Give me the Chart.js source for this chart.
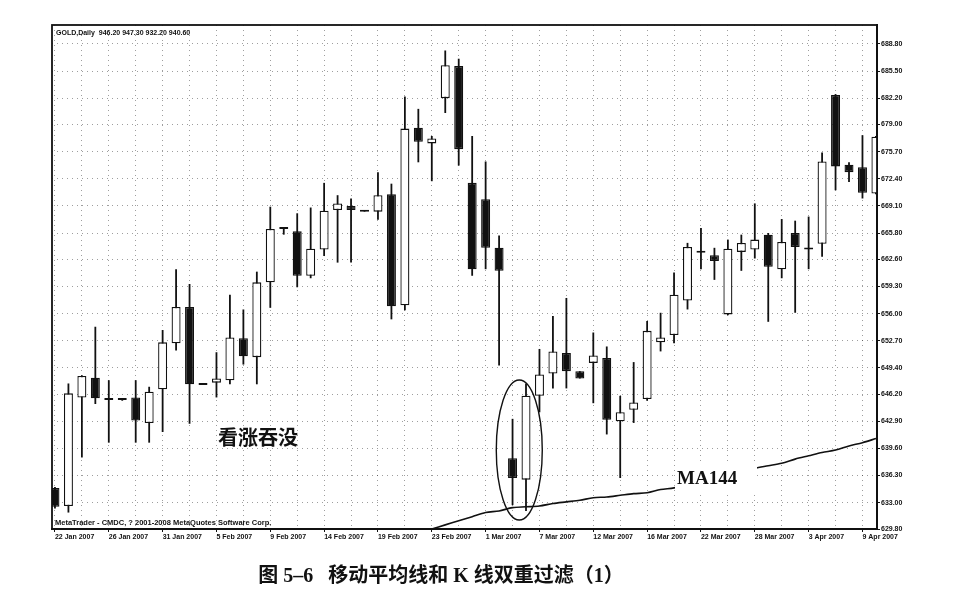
<!DOCTYPE html>
<html>
<head>
<meta charset="utf-8">
<script src="https://cdn.jsdelivr.net/npm/chart.js@4.4.1/dist/chart.umd.min.js"></script>
<style>
  html, body { margin: 0; padding: 0; background: #fff; }
  #wrap { width: 970px; height: 599px; }
</style>
</head>
<body>
<div id="wrap"><canvas id="c" width="970" height="599"></canvas></div>
<script>
// GOLD daily, 22 Jan - 9 Apr 2007 (one entry per bar)
const barOpen  = [634.8,632.6,645.8,648.2,645.6,645.6,645.8,642.7,646.8,652.4,
                  656.8,647.4,647.6,647.9,653.0,650.7,659.8,666.4,666.0,660.6,
                  663.8,668.6,669.1,668.5,668.4,670.5,657.0,678.6,676.7,682.2,
                  686.1,671.9,669.9,664.0,638.4,635.8,646.0,648.7,651.2,649.0,
                  650.0,650.6,642.9,644.3,645.6,652.5,653.4,657.6,663.5,663.1,
                  655.9,663.5,663.8,665.6,661.4,665.8,663.8,664.5,682.6,674.1,
                  673.8,670.6];
const barHigh  = [634.9,647.5,648.5,654.4,647.9,645.7,647.9,647.1,654.0,661.4,
                  659.6,647.5,651.3,658.3,656.5,661.1,669.0,666.5,668.2,668.9,
                  671.9,670.4,670.0,668.6,673.2,671.8,682.4,680.9,677.6,688.0,
                  687.0,677.6,674.5,665.5,643.2,647.5,651.7,655.7,657.9,649.0,
                  653.7,652.0,646.0,650.1,655.1,656.1,661.0,664.6,666.4,664.0,
                  665.0,665.6,669.4,665.8,667.5,667.3,667.8,675.6,682.7,674.4,
                  677.7,677.6];
const barLow   = [632.3,631.8,638.5,645.0,640.3,645.4,640.3,640.3,641.6,651.5,
                  642.6,647.3,645.8,647.4,649.8,647.4,656.7,665.6,659.2,660.3,
                  663.0,662.2,662.2,668.4,667.4,655.3,656.4,674.4,672.1,680.4,
                  674.0,660.6,661.4,649.7,632.7,632.0,644.0,646.9,646.9,648.1,
                  645.1,641.3,636.0,642.7,645.4,651.4,652.4,656.5,661.4,660.1,
                  655.8,661.2,662.7,655.0,660.3,656.1,661.4,662.9,671.0,672.0,
                  670.0,670.5];
const barClose = [632.5,646.3,648.4,645.7,645.5,645.5,643.0,646.5,652.5,656.8,
                  647.4,647.3,648.1,653.1,650.8,659.8,666.3,666.3,660.6,663.9,
                  668.5,669.4,668.6,668.4,670.4,656.9,678.5,676.9,677.3,686.2,
                  676.0,661.4,664.0,661.2,636.0,646.0,648.6,651.4,649.0,648.1,
                  650.9,643.1,644.0,645.2,653.9,653.1,658.3,664.1,663.4,662.4,
                  663.9,664.6,665.0,661.7,664.7,664.1,663.9,674.5,673.9,673.2,
                  670.7,677.5];
// 144-day moving average (below the visible range before bar 28)
const ma144 = [null,null,null,null,null,null,null,null,null,null,
               null,null,null,null,null,null,null,null,null,null,
               null,null,null,null,null,null,null,null,629.8,630.3,
               630.8,631.3,631.8,632.0,632.4,632.5,632.6,632.9,633.1,633.3,
               633.6,633.7,633.9,634.1,634.2,634.6,634.8,635.2,635.5,635.9,
               636.4,636.8,637.2,637.5,637.8,638.3,638.7,639.1,639.4,639.9,
               640.3,640.8];
// x labels, one every 4 bars
const dateLabels = ['22 Jan 2007','26 Jan 2007','31 Jan 2007','5 Feb 2007','9 Feb 2007',
                    '14 Feb 2007','19 Feb 2007','23 Feb 2007','1 Mar 2007','7 Mar 2007',
                    '12 Mar 2007','16 Mar 2007','22 Mar 2007','28 Mar 2007','3 Apr 2007','9 Apr 2007'];
const priceTicks = [629.8,633.0,636.3,639.6,642.9,646.2,649.4,652.7,656.0,659.3,
                    662.6,665.8,669.1,672.4,675.7,679.0,682.2,685.5,688.8];

const ink = '#111';
const gridInk = 'rgba(0,0,0,0.38)';
const tickFont = { family: 'Liberation Sans', size: 7, weight: 'bold' };

const bodies = barOpen.map((o, i) => ({ x: i, y: [o, barClose[i]] }));
const wicks = barLow.map((l, i) => ({ x: i, y: [l, barHigh[i]] }));
const maLine = ma144.map((v, i) => ({ x: i, y: v }));
const bodyColors = barOpen.map((o, i) => barClose[i] >= o ? '#fff' : ink);

const decor = {
  id: 'decor',
  afterDatasetsDraw(chart) {
    const { ctx, scales: { x, y } } = chart;
    ctx.save();
    // circle round the engulfing pair
    ctx.beginPath();
    ctx.ellipse(x.getPixelForValue(34.5), y.getPixelForValue(639.4), 23, 70, 0, 0, Math.PI * 2);
    ctx.lineWidth = 1.4;
    ctx.strokeStyle = ink;
    ctx.stroke();
    // MA144 label sits on a white patch over the line
    ctx.fillStyle = '#fff';
    ctx.fillRect(675, 465, 82, 27);
    ctx.fillStyle = ink;
    ctx.textBaseline = 'middle';
    ctx.textAlign = 'left';
    ctx.font = 'bold 19px "Liberation Serif"';
    ctx.fillText('MA144', 677, 479);
    ctx.font = 'bold 20px "Noto Sans CJK SC"';
    ctx.fillText('看涨吞没', 218, 437);
    ctx.font = 'bold 7px "Liberation Sans"';
    ctx.fillText('GOLD,Daily  946.20 947.30 932.20 940.60', 56, 33);
    ctx.font = 'bold 7.5px "Liberation Sans"';
    ctx.fillText('MetaTrader - CMDC, ? 2001-2008 MetaQuotes Software Corp.', 55, 523);
    ctx.restore();
  },
  afterDraw(chart) {
    const { ctx, chartArea: a } = chart;
    ctx.save();
    ctx.lineWidth = 1.8;
    ctx.strokeStyle = ink;
    ctx.strokeRect(a.left, a.top, a.right - a.left, a.bottom - a.top);
    ctx.fillStyle = ink;
    ctx.textAlign = 'center';
    ctx.textBaseline = 'middle';
    ctx.font = 'bold 20px "Liberation Serif", "Noto Sans CJK SC"';
    ctx.fillText('图 5–6   移动平均线和 K 线双重过滤（1）', 441, 577);
    ctx.restore();
  }
};

new Chart(document.getElementById('c'), {
  type: 'bar',
  data: {
    datasets: [
      {
        type: 'line', data: maLine, borderColor: ink, borderWidth: 1.6,
        pointRadius: 0, tension: 0.3, order: 0
      },
      {
        data: bodies, backgroundColor: bodyColors, borderColor: ink, borderWidth: 1.3,
        borderSkipped: false, grouped: false, maxBarThickness: 9, minBarLength: 2,
        clip: 0, order: 1
      },
      {
        data: wicks, backgroundColor: ink, borderWidth: 0,
        grouped: false, maxBarThickness: 1.8, clip: 0, order: 2
      }
    ]
  },
  options: {
    responsive: false,
    animation: false,
    devicePixelRatio: 1,
    layout: { padding: { left: 52, top: 25, right: 0, bottom: 0 } },
    plugins: { legend: { display: false }, tooltip: { enabled: false } },
    scales: {
      x: {
        type: 'linear', min: -0.22, max: 61.08, offset: false,
        afterBuildTicks: (s) => { s.ticks = []; for (let v = 0; v <= 60; v += 2) s.ticks.push({ value: v }); },
        afterFit: (s) => { s.height = 70; },
        ticks: {
          align: 'start', autoSkip: false, maxRotation: 0, padding: 1, color: ink, font: tickFont,
          callback: (v) => v % 4 === 0 ? dateLabels[v / 4] : ''
        },
        grid: {
          offset: false, color: gridInk, lineWidth: 1, tickLength: 3,
          tickColor: (c) => (c.tick && c.tick.value % 4 === 0) ? ink : 'rgba(0,0,0,0)'
        },
        border: { display: true, color: ink, width: 2, dash: [1, 4] }
      },
      y: {
        type: 'linear', position: 'right', min: 629.8, max: 691.1, beginAtZero: false,
        afterBuildTicks: (s) => { s.ticks = priceTicks.map(v => ({ value: v })); },
        afterFit: (s) => { s.width = 93; },
        ticks: { padding: 1, color: ink, font: tickFont, callback: (v) => v.toFixed(2) },
        grid: { color: gridInk, lineWidth: 1, tickLength: 3, tickColor: ink },
        border: { display: true, color: ink, width: 2, dash: [1, 4] }
      }
    }
  },
  plugins: [decor]
});
</script>
</body>
</html>
